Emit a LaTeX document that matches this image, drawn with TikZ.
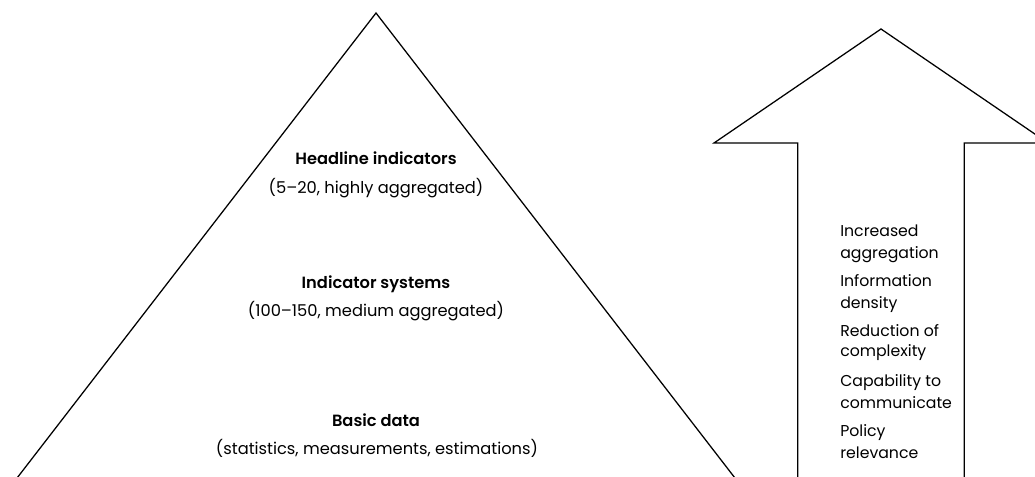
\documentclass[tikz,border=0pt]{standalone}
\usepackage{fontspec}
\setmainfont{Poppins}[Ligatures=NoCommon,BoldFont={Poppins SemiBold}]
\begin{document}
\begin{tikzpicture}[x=0.75pt,y=-0.75pt,
  outline/.style={draw=black,line width=0.95pt,line join=miter},
  lvltitle/.style={anchor=base,font=\fontsize{12.2}{14}\selectfont\bfseries,inner sep=0pt},
  lvlsub/.style={anchor=base,font=\fontsize{12.2}{14}\selectfont,inner sep=0pt},
  sidetext/.style={anchor=base west,font=\fontsize{11.8}{14}\selectfont,inner sep=0pt}]
\useasboundingbox (0,0) rectangle (1035,477);
\clip (0,0) rectangle (1035,477);
% pyramid
\coordinate (apex) at (376,13);
\coordinate (bl) at (15.5,480);
\coordinate (br) at (736.5,480);
\draw[outline] (bl) -- (apex) -- (br);
% arrow
\coordinate (tip) at (881,29);
\coordinate (hl) at (714,143);
\coordinate (hr) at (1048,143);
\coordinate (sl) at (797.7,143);
\coordinate (sr) at (964.3,143);
\coordinate (slb) at (797.7,480);
\coordinate (srb) at (964.3,480);
\draw[outline] (slb) -- (sl) -- (hl) -- (tip) -- (hr) -- (sr) -- (srb);
% pyramid texts
\node[lvltitle] (h1) at (376,164.3) {Headline indicators};
\node[lvlsub] (h2) at (376,193.3) {(5–20, highly aggregated)};
\node[lvltitle] (i1) at (376,288.3) {Indicator systems};
\node[lvlsub] (i2) at (376,316.7) {(100–150, medium aggregated)};
\node[lvltitle] (b1) at (376,426.7) {Basic data};
\node[lvlsub] (b2) at (377,454) {(statistics, measurements, estimations)};
% side texts
\node[sidetext] (s1) at (840,236.7) {Increased};
\node[sidetext] (s2) at (840,258.3) {aggregation};
\node[sidetext] (s3) at (840,286.7) {Information};
\node[sidetext] (s4) at (840,308.3) {density};
\node[sidetext] (s5) at (840,336.7) {Reduction of};
\node[sidetext] (s6) at (840,356.7) {complexity};
\node[sidetext] (s7) at (840,386.7) {Capability to};
\node[sidetext] (s8) at (840,408.3) {communicate};
\node[sidetext] (s9) at (840,436.7) {Policy};
\node[sidetext] (s10) at (840,458.3) {relevance};
\end{tikzpicture}
\end{document}
